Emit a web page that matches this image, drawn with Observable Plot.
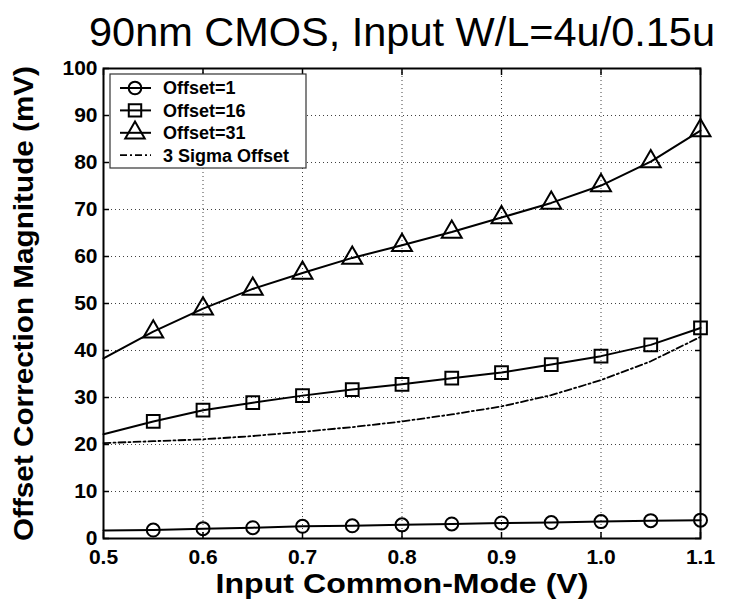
<!DOCTYPE html>
<html><head><meta charset="utf-8">
<script src="https://cdn.jsdelivr.net/npm/d3@7"></script>
<script src="https://cdn.jsdelivr.net/npm/@observablehq/plot@0.6"></script>
<style>body{margin:0;background:#fff} #chart svg{display:block}</style>
</head><body><div id="chart"></div>
<script>
const xs = [0.5, 0.55, 0.6, 0.65, 0.7, 0.75, 0.8, 0.85, 0.9, 0.95, 1.0, 1.05, 1.1];
const offset1  = [1.7, 1.8, 2.1, 2.3, 2.6, 2.7, 2.9, 3.1, 3.3, 3.4, 3.6, 3.8, 3.9];
const offset16 = [22.2, 24.9, 27.3, 28.9, 30.4, 31.7, 32.8, 34.1, 35.3, 37.0, 38.8, 41.2, 44.8];
const offset31 = [38.3, 44.0, 48.9, 53.1, 56.5, 59.7, 62.4, 65.2, 68.3, 71.4, 75.1, 80.2, 86.8];
const sigma3   = [20.3, 20.7, 21.1, 21.8, 22.7, 23.7, 24.9, 26.4, 28.1, 30.5, 33.7, 37.7, 42.9];
const xTicks = [0.5, 0.6, 0.7, 0.8, 0.9, 1, 1.1];
const yTicks = [0, 10, 20, 30, 40, 50, 60, 70, 80, 90, 100];
const seriesNames = ["Offset=1", "Offset=16", "Offset=31", "3 Sigma Offset"];
const seriesSymbols = ["circle", "square", "triangle", null];
const titleText = "90nm CMOS, Input W/L=4u/0.15u";
const xLabel = "Input Common-Mode (V)";
const yLabel = "Offset Correction Magnitude (mV)";

const rows = vals => xs.map((x, i) => ({x, y: vals[i]}));
const withMarker = vals => rows(vals).filter(d => d.x > 0.5);

const M = {left: 103, right: 30, top: 68, bottom: 62};
const font = "'Liberation Sans', Arial, Helvetica, sans-serif";
const gridStyle = {stroke: "#000", strokeOpacity: 0.75, strokeDasharray: "1,3", strokeWidth: 1};

const plot = Plot.plot({
  width: 730, height: 600,
  marginLeft: M.left, marginRight: M.right, marginTop: M.top, marginBottom: M.bottom,
  x: {domain: [0.5, 1.1]},
  y: {domain: [0, 100]},
  style: {fontFamily: font, fontWeight: "bold", color: "black", background: "white", overflow: "visible"},
  marks: [
    Plot.gridX(xTicks, gridStyle),
    Plot.gridY(yTicks, gridStyle),
    Plot.axisX(xTicks, {anchor: "bottom", tickSize: -6, tickPadding: 17, label: null, fontSize: 21, fontWeight: "bold", strokeWidth: 1.5}),
    Plot.axisX(xTicks, {anchor: "top", tickSize: -6, tickFormat: () => "", label: null, strokeWidth: 1.5}),
    Plot.axisY(yTicks, {anchor: "left", tickSize: -6, tickPadding: 12, label: null, fontSize: 21, fontWeight: "bold", strokeWidth: 1.5}),
    Plot.axisY(yTicks, {anchor: "right", tickSize: -6, tickFormat: () => "", label: null, strokeWidth: 1.5}),
    Plot.line(rows(sigma3), {x: "x", y: "y", stroke: "black", strokeWidth: 1.8, strokeDasharray: "7,3,2,3"}),
    Plot.line(rows(offset1), {x: "x", y: "y", stroke: "black", strokeWidth: 2}),
    Plot.line(rows(offset16), {x: "x", y: "y", stroke: "black", strokeWidth: 2}),
    Plot.line(rows(offset31), {x: "x", y: "y", stroke: "black", strokeWidth: 2}),
    Plot.dot(withMarker(offset1), {x: "x", y: "y", symbol: "circle", r: 6.5, stroke: "black", fill: "none", strokeWidth: 2}),
    Plot.dot(withMarker(offset16), {x: "x", y: "y", symbol: "square", r: 7.2, stroke: "black", fill: "none", strokeWidth: 2}),
    Plot.dot(withMarker(offset31), {x: "x", y: "y", symbol: "triangle", r: 7.4, stroke: "black", fill: "none", strokeWidth: 2}),
    Plot.frame({stroke: "black", strokeWidth: 2}),
    Plot.text([titleText], {frameAnchor: "top", dy: -35, lineAnchor: "middle", textAnchor: "middle", fontSize: 40, fontWeight: "normal"}),
    Plot.text([xLabel], {frameAnchor: "bottom", dy: 46, lineAnchor: "middle", textAnchor: "middle", fontSize: 28, fontWeight: "bold"}),
    Plot.text([yLabel], {frameAnchor: "left", dx: -79, rotate: -90, lineAnchor: "middle", textAnchor: "middle", fontSize: 27, fontWeight: "bold"})
  ]
});

const svg = d3.select(plot);
const fit = {[titleText]: 626, [xLabel]: 373, [yLabel]: 475};
svg.selectAll("text").each(function() {
  const t = this.textContent;
  if (fit[t]) d3.select(this).attr("textLength", fit[t]).attr("lengthAdjust", "spacingAndGlyphs");
});

// Legend
const lg = svg.append("g").attr("font-family", font).attr("font-weight", "bold").attr("text-anchor", "start");
const bx = M.left + 7, by = M.top + 6, bw = 196, bh = 94;
lg.append("rect").attr("x", bx).attr("y", by).attr("width", bw).attr("height", bh)
  .attr("fill", "white").attr("stroke", "#333").attr("stroke-width", 1.2);
const symMap = {circle: d3.symbolCircle, square: d3.symbolSquare, triangle: d3.symbolTriangle};
const symR = {circle: 6.5, square: 7.2, triangle: 7.4};
seriesNames.forEach((name, i) => {
  const yy = by + 14 + i * 22.4;
  const line = lg.append("line").attr("x1", bx + 10).attr("x2", bx + 41).attr("y1", yy).attr("y2", yy)
    .attr("stroke", "black");
  const s = seriesSymbols[i];
  if (s) {
    line.attr("stroke-width", 2);
    lg.append("path").attr("d", d3.symbol(symMap[s], Math.PI * symR[s] * symR[s] * 0.95)())
      .attr("transform", `translate(${bx + 25},${yy})`).attr("fill", "none").attr("stroke", "black").attr("stroke-width", 2);
  } else {
    line.attr("stroke-width", 1.8).attr("stroke-dasharray", "7,3,2,3");
  }
  lg.append("text").attr("x", bx + 53).attr("y", yy).attr("dy", "0.35em").attr("font-size", 18)
    .attr("text-anchor", "start").attr("fill", "black").text(name);
});

document.getElementById("chart").appendChild(plot);
</script>
</body></html>
